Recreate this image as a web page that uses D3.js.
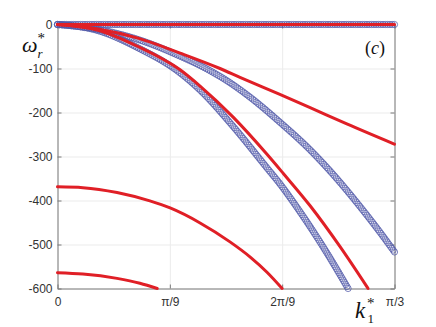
<!DOCTYPE html>
<html>
<head>
<meta charset="utf-8">
<script src="https://cdn.jsdelivr.net/npm/d3@7"></script>
<style>
  body { margin: 0; background: #fff; }
  svg { display: block; }
</style>
</head>
<body>
<svg id="chart" width="436" height="327"></svg>
<script>
const PI = Math.PI;

// TICKS
const xTicks = [0, PI / 9, (2 * PI) / 9, PI / 3];
const xTickLabels = ["0", "π/9", "2π/9", "π/3"];
const yTicks = [0, -100, -200, -300, -400, -500, -600];

// DATA (k1* in rad, omega_r*)
// blue circles
const blueZeroK = [0, PI / 3];
const blueZeroW = [0, 0];
const blueAK = [0, 0.126, 0.25, 0.381, 0.474, 0.527, 0.598, 0.691, 0.785, 0.847, 0.949, 1.002, PI / 3];
const blueAW = [0, -11, -34, -72, -105, -128, -165, -222, -285, -333, -422, -472, -517];
const blueBK = [0, 0.126, 0.25, 0.381, 0.443, 0.545, 0.651, 0.691, 0.753, 0.831, 0.903];
const blueBW = [0, -14, -53, -110, -149, -231, -326, -362, -425, -512, -600];

// red lines
const redZeroK = [0, PI / 3];
const redZeroW = [0, 0];
const redAK = [0, 0.126, 0.25, 0.381, 0.505, 0.567, 0.691, 0.785, 0.899, PI / 3];
const redAW = [0, -10, -31, -65, -100, -120, -159, -189, -226, -272];
const redBK = [0, 0.126, 0.25, 0.381, 0.443, 0.545, 0.651, 0.701, 0.785, 0.878, 0.965];
const redBW = [0, -13, -50, -103, -140, -210, -295, -338, -412, -505, -600];
const redCK = [0, 0.079, 0.185, 0.287, 0.35, 0.443, 0.536, 0.598, 0.651, (2 * PI) / 9];
const redCW = [-369, -371, -382, -401, -417, -451, -494, -528, -563, -600];
const redDK = [0, 0.079, 0.185, 0.256, 0.31];
const redDW = [-564, -567, -577, -588, -600];

const blueSeries = [
  d3.zip(blueZeroK, blueZeroW),
  d3.zip(blueAK, blueAW),
  d3.zip(blueBK, blueBW),
];
const redSeries = [
  d3.zip(redZeroK, redZeroW),
  d3.zip(redAK, redAW),
  d3.zip(redBK, redBW),
  d3.zip(redCK, redCW),
  d3.zip(redDK, redDW),
];

// CANVAS SETUP
const svg = d3.select("#chart");
const plot = { left: 57.5, right: 394.5, top: 24.5, bottom: 288.5 };

const xScale = d3.scaleLinear().domain([0, PI / 3]).range([plot.left, plot.right]);
const yScale = d3.scaleLinear().domain([-600, 0]).range([plot.bottom, plot.top]);

const axisColor = "#7a7a7a";
const labelFont = "'Liberation Sans', Arial, sans-serif";
const serif = "'Liberation Serif', 'Times New Roman', serif";

// GRID
svg.append("g")
  .attr("transform", `translate(${plot.left},0)`)
  .call(d3.axisLeft(yScale).tickValues(yTicks).tickSize(-(plot.right - plot.left)).tickFormat(""))
  .call((g) => g.select(".domain").remove())
  .call((g) => g.selectAll("line").attr("stroke", "#ebebeb").attr("stroke-width", 1));

svg.append("g")
  .attr("transform", `translate(0,${plot.bottom})`)
  .call(d3.axisBottom(xScale).tickValues(xTicks).tickSize(-(plot.bottom - plot.top)).tickFormat(""))
  .call((g) => g.select(".domain").remove())
  .call((g) => g.selectAll("line").attr("stroke", "#ebebeb").attr("stroke-width", 1));

// AXES (box, ticks pointing inward)
function styleAxis(g) {
  g.select(".domain").attr("stroke", axisColor);
  g.selectAll(".tick line").attr("stroke", axisColor);
  g.selectAll("text")
    .attr("font-family", labelFont)
    .attr("font-size", 12)
    .attr("fill", "#333");
}

svg.append("g")
  .attr("transform", `translate(${plot.left},0)`)
  .call(d3.axisLeft(yScale).tickValues(yTicks).tickSizeInner(-4).tickSizeOuter(0).tickPadding(5)
    .tickFormat((d) => String(d)))
  .call(styleAxis);

svg.append("g")
  .attr("transform", `translate(${plot.right},0)`)
  .call(d3.axisRight(yScale).tickValues(yTicks).tickSizeInner(-4).tickSizeOuter(0).tickFormat(""))
  .call(styleAxis);

svg.append("g")
  .attr("transform", `translate(0,${plot.bottom})`)
  .call(d3.axisBottom(xScale).tickValues(xTicks).tickSizeInner(-4).tickSizeOuter(0).tickPadding(9)
    .tickFormat((d, i) => xTickLabels[i]))
  .call(styleAxis);

svg.append("g")
  .attr("transform", `translate(0,${plot.top})`)
  .call(d3.axisTop(xScale).tickValues(xTicks).tickSizeInner(-4).tickSizeOuter(0).tickFormat(""))
  .call(styleAxis);

// RENDER
const line = d3.line()
  .x((d) => xScale(d[0]))
  .y((d) => yScale(d[1]))
  .curve(d3.curveMonotoneX);

// blue series: open circle markers placed along each curve
const blueLayer = svg.append("g");
blueSeries.forEach(function (s) {
  const path = blueLayer.append("path")
    .attr("d", line(s))
    .attr("fill", "none")
    .attr("stroke", "none");
  const node = path.node();
  const len = node.getTotalLength();
  const step = 2.3;
  const n = Math.max(1, Math.round(len / step));
  const pts = d3.range(n + 1).map((i) => node.getPointAtLength((len * i) / n));
  blueLayer.append("g")
    .selectAll("circle")
    .data(pts)
    .join("circle")
    .attr("cx", (d) => d.x)
    .attr("cy", (d) => d.y)
    .attr("r", 3.1)
    .attr("fill", "none")
    .attr("stroke", "#5058a8")
    .attr("stroke-width", 0.75);
});

svg.append("g")
  .selectAll("path")
  .data(redSeries)
  .join("path")
  .attr("d", line)
  .attr("fill", "none")
  .attr("stroke", "#e01f26")
  .attr("stroke-width", 3)
  .attr("stroke-linecap", "round");

// LABELS
const yLab = svg.append("g").attr("font-family", serif).attr("fill", "#111");
yLab.append("text").attr("x", 22).attr("y", 52).attr("font-size", 22)
  .attr("font-style", "italic").text("ω");
yLab.append("text").attr("x", 37.5).attr("y", 58).attr("font-size", 13)
  .attr("font-style", "italic").text("r");
yLab.append("text").attr("x", 37.5).attr("y", 43).attr("font-size", 15).text("*");

const xLab = svg.append("g").attr("font-family", serif).attr("fill", "#111");
xLab.append("text").attr("x", 355).attr("y", 318).attr("font-size", 23)
  .attr("font-style", "italic").text("k");
xLab.append("text").attr("x", 367.5).attr("y", 323).attr("font-size", 13).text("1");
xLab.append("text").attr("x", 367).attr("y", 308).attr("font-size", 15).text("*");

const panel = svg.append("text")
  .attr("x", 365)
  .attr("y", 54)
  .attr("font-family", serif)
  .attr("font-size", 18)
  .attr("fill", "#111");
panel.append("tspan").text("(");
panel.append("tspan").attr("font-style", "italic").text("c");
panel.append("tspan").text(")");
</script>
</body>
</html>
